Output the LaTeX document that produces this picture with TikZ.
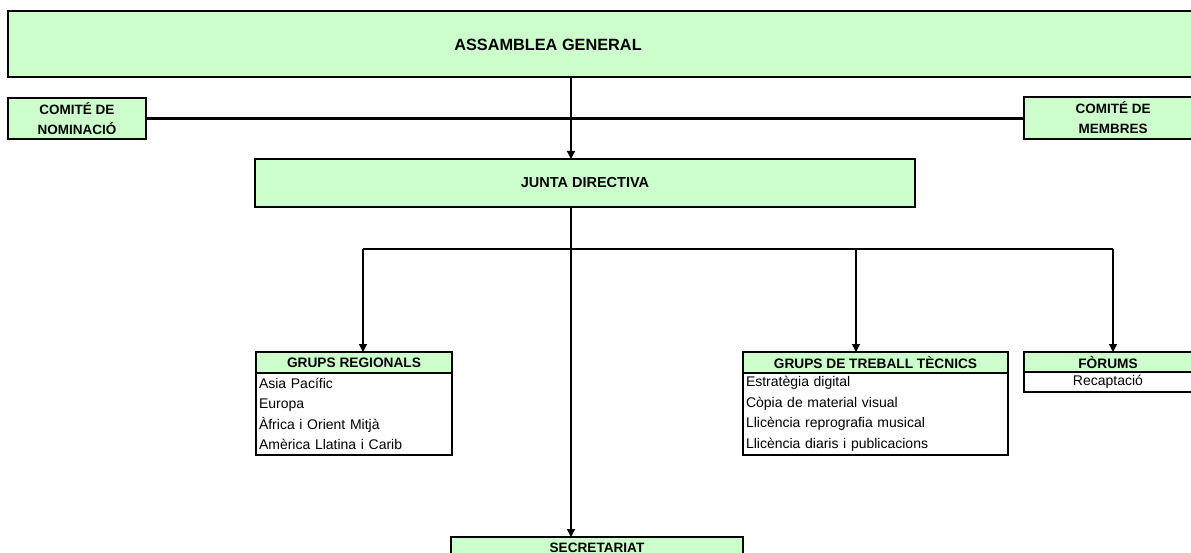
\documentclass[tikz,border=0pt]{standalone}
\usepackage{fontspec}
\setmainfont{Liberation Sans}
\usetikzlibrary{positioning,arrows.meta,calc}
\definecolor{boxgreen}{RGB}{204,255,204}

\begin{document}
\begin{tikzpicture}[x=1pt,y=-1pt,>={Triangle[width=8pt,length=8pt]},
	greenbox/.style={fill=boxgreen,draw=black,line width=2.5pt,outer sep=0pt,inner sep=0pt,align=center,font=\bfseries\fontsize{13.7}{16}\selectfont},
	listbox/.style={fill=white,draw=black,line width=2.5pt,outer sep=0pt,inner xsep=3pt,inner ysep=0pt,align=left,font=\fontsize{14}{20.5}\selectfont},
	link/.style={line width=1.3pt},
	bar/.style={line width=2.2pt}]
	\useasboundingbox (0,0) rectangle (1191,553);
	\clip (0,0) rectangle (1191,553);
	\node (Assemblea) [greenbox,minimum width=1200pt,minimum height=66pt,anchor=north west] at (8,11) {};
	\node (AssembleaText) [font=\bfseries\fontsize{16.3}{19}\selectfont] at (548,45) {ASSAMBLEA GENERAL};
	\node (Nominacio) [greenbox,font=\bfseries\fontsize{13.5}{20}\selectfont,minimum width=138pt,minimum height=41pt] at (77,118.5) {COMITÉ DE\\NOMINACIÓ};
	\node (Membres) [greenbox,font=\bfseries\fontsize{13.5}{20}\selectfont,minimum width=178pt,minimum height=42pt] at (1113,118) {COMITÉ DE\\MEMBRES};
	\node (Junta) [greenbox,font=\bfseries\fontsize{14.5}{17}\selectfont,minimum width=660pt,minimum height=48pt] at (585,183) {JUNTA DIRECTIVA};
	\node (Regionals) [greenbox,minimum width=196pt,minimum height=21pt] at (354,362.5) {GRUPS REGIONALS};
	\node (RegionalsList) [listbox,text width=190pt,minimum height=82pt,below=0pt of Regionals] {Asia Pacífic\\Europa\\Àfrica i Orient Mitjà\\Amèrica Llatina i Carib};
	\node (Tecnics) [greenbox,minimum width=265pt,minimum height=21pt] at (875.5,362.5) {GRUPS DE TREBALL TÈCNICS};
	\node (TecnicsList) [listbox,text width=259pt,minimum height=82pt,below=0pt of Tecnics] {Estratègia digital\\Còpia de material visual\\Llicència reprografia musical\\Llicència diaris i publicacions};
	\node (Forums) [greenbox,minimum width=168pt,minimum height=20pt] at (1108,362) {FÒRUMS};
	\node (ForumsList) [listbox,align=center,text width=162pt,minimum height=20pt,below=0pt of Forums] {Recaptació};
	\node (Secretariat) [greenbox,font=\bfseries\fontsize{13.6}{16}\selectfont,minimum width=292pt,minimum height=21pt] at (597,547.5) {SECRETARIAT};
	% links
	\coordinate (Trunk) at (571,0);
	\draw[bar] (Nominacio.east) -- (Nominacio.east -| Membres.west);
	\draw[link,->] (Assemblea.south -| Trunk) -- (Junta.north -| Trunk);
	\draw[link,->] (Junta.south -| Trunk) -- (Secretariat.north -| Trunk);
	\coordinate (BranchL) at (363,249);
	\coordinate (BranchM) at (856,249);
	\coordinate (BranchR) at (1113,249);
	\draw[bar] (BranchL) -- (BranchR);
	\draw[link,->] (BranchL) -- (BranchL |- Regionals.north);
	\draw[link,->] (BranchM) -- (BranchM |- Tecnics.north);
	\draw[link,->] (BranchR) -- (BranchR |- Forums.north);
\end{tikzpicture}
\end{document}
